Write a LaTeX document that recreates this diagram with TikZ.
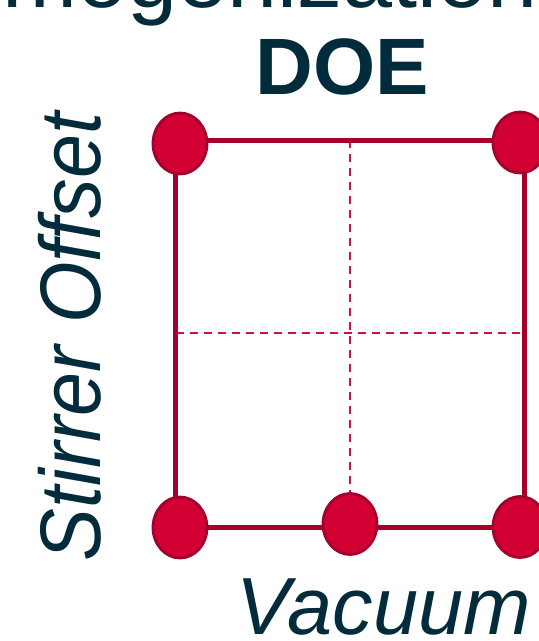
\documentclass[tikz,border=0pt]{standalone}
\usepackage{fontspec}
\setmainfont{Liberation Sans}
\usetikzlibrary{shapes.geometric}
\definecolor{navy}{HTML}{022B3C}
\definecolor{redfill}{HTML}{D20032}
\definecolor{redline}{HTML}{A5002C}
\definecolor{reddash}{HTML}{D3103C}
\begin{document}
\begin{tikzpicture}[x=1pt,y=-1pt,
  lbl/.style={inner sep=0pt,outer sep=0pt,text=navy},
  frame/.style={draw=redline,line width=5pt},
  grid/.style={draw=reddash,line width=1.8pt,dash pattern=on 8pt off 6pt},
  pt/.style={ellipse,draw=redline,fill=redfill,line width=2.8pt,minimum width=54pt,minimum height=61pt,inner sep=0pt}]
\useasboundingbox (0,0) rectangle (539,641);
\clip (0,0) rectangle (539,641);
\node[lbl,anchor=base east,font=\fontsize{90}{90}\selectfont] (title) at (538,7) {Homogenization};
\node[lbl,anchor=base,font=\fontsize{80}{80}\selectfont\bfseries] (doe) at (342,94) {DOE};
\coordinate (tl) at (175.5,140);
\coordinate (tr) at (524,140);
\coordinate (bl) at (175.5,527.5);
\coordinate (br) at (524,527.5);
\coordinate (mt) at (350,140);
\coordinate (mb) at (350,494);
\coordinate (ml) at (175.5,333);
\coordinate (mr) at (524,333);
\draw[grid] (ml) -- (mr);
\draw[grid] (mt) -- (mb);
\draw[frame] (tl) -- (tr) -- (br) -- (bl) -- cycle;
\node[pt] (p1) at (180,143.5) {};
\node[pt] (p2) at (520,142.5) {};
\node[pt] (p3) at (180,527.5) {};
\node[pt] (p4) at (520,527) {};
\node[pt] (p5) at (350,524) {};
\node[lbl,anchor=base,rotate=90,xscale=0.92,font=\fontsize{86}{86}\selectfont\itshape] (ylab) at (100,337) {Stirrer Offset};
\node[lbl,anchor=base,font=\fontsize{81}{81}\selectfont\itshape] (xlab) at (384,634) {Vacuum};
\end{tikzpicture}
\end{document}
